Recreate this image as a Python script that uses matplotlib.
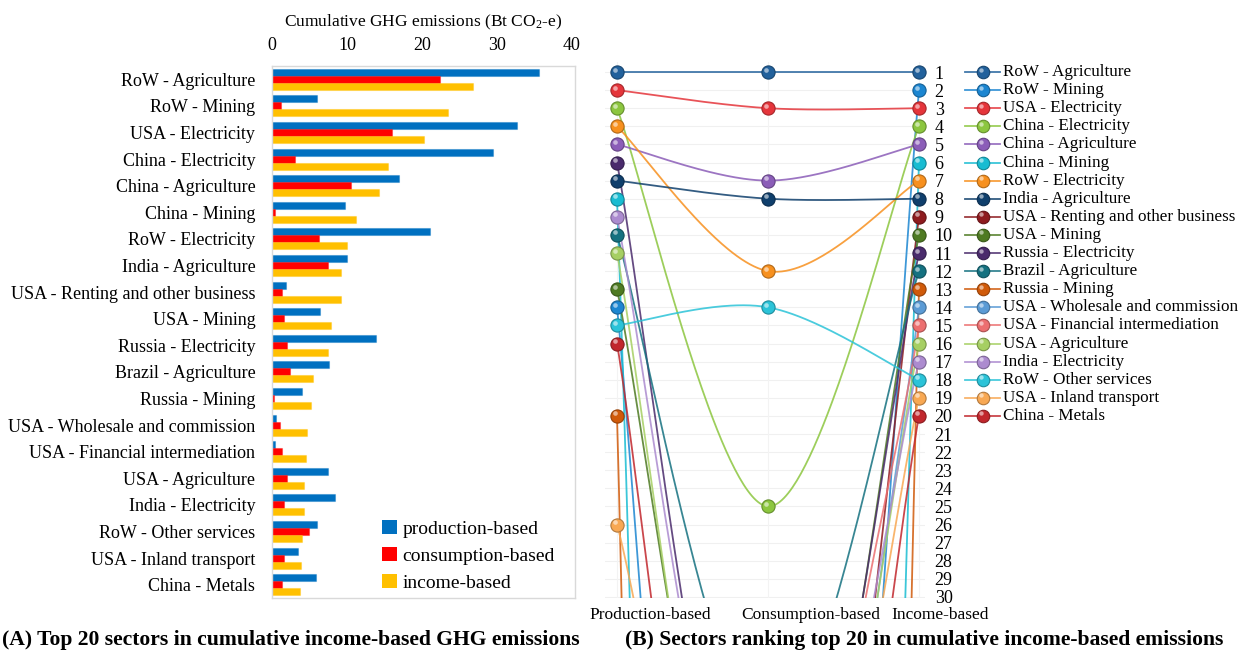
import numpy as np
import matplotlib
matplotlib.use("Agg")
import matplotlib.pyplot as plt
from matplotlib import colors as mcolors
from matplotlib import transforms as mtransforms
from matplotlib.patches import Patch

# ---- data -----------------------------------------------------------------
sectors = [
    "RoW - Agriculture", "RoW - Mining", "USA - Electricity",
    "China - Electricity", "China - Agriculture", "China - Mining",
    "RoW - Electricity", "India - Agriculture",
    "USA - Renting and other business", "USA - Mining",
    "Russia - Electricity", "Brazil - Agriculture", "Russia - Mining",
    "USA - Wholesale and commission", "USA - Financial intermediation",
    "USA - Agriculture", "India - Electricity", "RoW - Other services",
    "USA - Inland transport", "China - Metals",
]

# cumulative emissions, Bt CO2-e
production = [35.6, 6.0, 32.7, 29.4, 16.9, 9.7, 21.0, 10.0, 1.8, 6.4,
              13.9, 7.6, 4.0, 0.5, 0.45, 7.5, 8.4, 6.0, 3.5, 5.9]
consumption = [22.4, 1.2, 16.0, 3.1, 10.5, 0.45, 6.3, 7.4, 1.3, 1.6,
               2.0, 2.4, 0.2, 1.1, 1.3, 2.0, 1.6, 4.9, 1.6, 1.3]
income = [26.8, 23.4, 20.2, 15.5, 14.2, 11.2, 10.0, 9.2, 9.2, 7.9,
          7.5, 5.5, 5.2, 4.6, 4.5, 4.3, 4.2, 4.0, 3.8, 3.7]

# rank of each sector under the three accounting principles
prod_rank = [1, 14, 2, 3, 5, 8, 4, 7, 70, 13, 6, 10, 20, 200, 210, 11, 9, 15, 26, 16]
cons_rank = [1, 95, 3, 25, 7, 228, 12, 8, 72, 52, 50, 38, 320, 80, 70, 55, 50, 14, 56, 65]
inc_rank = list(range(1, 21))

methods = ["Production-based", "Consumption-based", "Income-based"]
bar_labels = ["production-based", "consumption-based", "income-based"]

# ---- styles ---------------------------------------------------------------
BAR_COLORS = ["#0070C0", "#FF0000", "#FFC000"]
LINE_COLORS = [
    "#22619C", "#1C86D1", "#E5353B", "#8CC63F", "#8B5DB8",
    "#18BCD2", "#F7901E", "#0F3F6C", "#8E1B1F", "#4E7A22",
    "#4A2B6C", "#157180", "#D05A0A", "#5B9BD5", "#EC6F70",
    "#A6CF63", "#AC8BCF", "#2BC3D8", "#F8A853", "#C1272D",
]

W, H = 1243, 654
plt.rcParams.update({
    "font.family": ["Liberation Serif", "DejaVu Serif"],
    "mathtext.fontset": "custom",
    "mathtext.rm": "Liberation Serif",
    "mathtext.it": "Liberation Serif:italic",
})


def px_axes(fig, left, top, right, bottom):
    """Add axes given its box in pixels measured from the top-left corner."""
    return fig.add_axes([left / W, 1 - bottom / H, (right - left) / W, (bottom - top) / H])


def smooth(xs, ys, n=80):
    """Cubic Bezier through the points, spreadsheet-style 'smoothed line'."""
    P = np.column_stack([xs, ys]).astype(float)
    ext = np.vstack([P[0], P, P[-1]])
    t = np.linspace(0, 1, n)[:, None]
    segs = []
    for i in range(len(P) - 1):
        p0, p1 = P[i], P[i + 1]
        c1 = p0 + (ext[i + 2] - ext[i]) / 6
        c2 = p1 - (ext[i + 3] - ext[i + 1]) / 6
        segs.append((1 - t) ** 3 * p0 + 3 * (1 - t) ** 2 * t * c1
                    + 3 * (1 - t) * t ** 2 * c2 + t ** 3 * p1)
    pts = np.vstack(segs)
    return pts[:, 0], pts[:, 1]


def ball(ax, x, y, color, size=9.5, transform=None, z=5):
    """Shaded sphere marker: coloured disc plus a soft highlight."""
    tr = transform if transform is not None else ax.transData
    dark = tuple(c * 0.72 for c in mcolors.to_rgb(color))
    ax.plot(x, y, "o", ms=size, mfc=color, mec=dark, mew=0.8,
            transform=tr, zorder=z, clip_on=False, ls="none")
    hi = mtransforms.offset_copy(tr, fig=ax.figure, x=-1.6, y=1.8, units="points")
    ax.plot(x, y, "o", ms=size * 0.35, mfc="white", mec="none", alpha=0.55,
            transform=hi, zorder=z + 0.1, clip_on=False, ls="none")


fig = plt.figure(figsize=(W / 100, H / 100), dpi=100, facecolor="white")

# ---- (A) bar chart ----------------------------------------------------------
ax_a = px_axes(fig, 272, 66, 575, 598)
y = np.arange(len(sectors))
h = 0.265
for k, vals in enumerate([production, consumption, income]):
    ax_a.barh(y + (k - 1) * h, vals, height=h, color=BAR_COLORS[k],
              edgecolor=mcolors.to_rgba(BAR_COLORS[k], 0.35), linewidth=0.8,
              label=bar_labels[k])
ax_a.set_ylim(len(sectors) - 0.5, -0.5)
ax_a.set_xlim(0, 40.4)
ax_a.set_yticks(y, sectors, fontsize=13)
ax_a.xaxis.tick_top()
ax_a.xaxis.set_label_position("top")
ax_a.set_xticks([0, 10, 20, 30, 40])
ax_a.tick_params(axis="x", length=0, pad=9, labelsize=13)
ax_a.tick_params(axis="y", length=0, pad=12)
ax_a.set_xlabel("Cumulative GHG emissions (Bt CO$_2$-e)", fontsize=12.5, labelpad=7)
for sp in ax_a.spines.values():
    sp.set_color("#D9D9D9")
    sp.set_linewidth(1.0)
handles = [Patch(facecolor=c, edgecolor="none") for c in BAR_COLORS]
ax_a.legend(handles, bar_labels, loc="lower left", frameon=False, fontsize=14,
            bbox_to_anchor=(382 / W, 1 - 592 / H), bbox_transform=fig.transFigure,
            handlelength=0.75, handleheight=0.75, handletextpad=0.3,
            labelspacing=0.48, borderpad=0, borderaxespad=0)

# ---- (B) rank chart ---------------------------------------------------------
ax_b = px_axes(fig, 605, 62, 925, 598)
ax_b.set_xlim(-12 / 151, 2 + 6 / 151)
ax_b.set_ylim(1 + 526 / 18.1, 1 - 10 / 18.1)
for r in range(1, 31):
    ax_b.axhline(r, color="#F0F0F0", lw=0.8, zorder=0)
for xv in range(3):
    ax_b.axvline(xv, color="#F3F3F3", lw=0.8, zorder=0)

xs = [0, 1, 2]
for i in range(len(sectors)):
    ranks = [prod_rank[i], cons_rank[i], inc_rank[i]]
    sx, sy = smooth(xs, ranks)
    ax_b.plot(sx, sy, color=LINE_COLORS[i], lw=1.3, alpha=0.85, zorder=2)
for i in range(len(sectors)):
    ranks = np.array([prod_rank[i], cons_rank[i], inc_rank[i]], dtype=float)
    shown = ranks <= 30
    ball(ax_b, np.array(xs)[shown], ranks[shown], LINE_COLORS[i])

ax_b.yaxis.tick_right()
ax_b.set_yticks(range(1, 31))
ax_b.tick_params(axis="y", length=0, pad=7, labelsize=13)
ax_b.set_xticks([])
for sp in ax_b.spines.values():
    sp.set_visible(False)

lab_tr = mtransforms.blended_transform_factory(ax_b.transData, ax_b.transAxes)
for k, name in enumerate(methods):
    ax_b.text(k - 0.18, -0.031, name, transform=lab_tr, ha="left", va="center",
              fontsize=12.5)

# legend rows sit on the income-based rank rows
leg_tr = mtransforms.blended_transform_factory(fig.transFigure, ax_b.transData)
for i, name in enumerate(sectors):
    r = inc_rank[i]
    ax_b.plot([965 / W, 1000 / W], [r, r], color=LINE_COLORS[i], lw=1.3,
              alpha=0.85, transform=leg_tr, clip_on=False, zorder=3)
    ball(ax_b, [983 / W], [r], LINE_COLORS[i], size=9, transform=leg_tr)
    ax_b.text(1003 / W, r, name, transform=leg_tr, ha="left", va="center",
              fontsize=12.3)

# ---- panel captions ----------------------------------------------------------
fig.text(2 / W, 1 - 640 / H, "(A) Top 20 sectors in cumulative income-based GHG emissions",
         ha="left", va="center", fontsize=15.6, fontweight="bold")
fig.text(625 / W, 1 - 640 / H, "(B) Sectors ranking top 20 in cumulative income-based emissions",
         ha="left", va="center", fontsize=15.6, fontweight="bold")

fig.savefig("out.png", dpi=100, facecolor="white")
